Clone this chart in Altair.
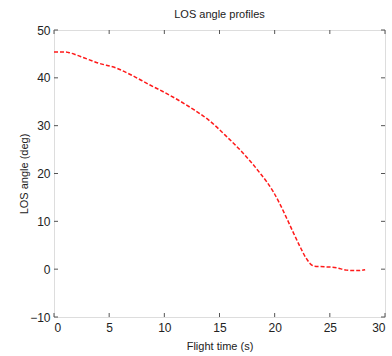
import altair as alt
import pandas as pd

t = [0, 0.5, 1.0, 1.3, 2.0, 2.7, 4.0, 5.7, 7.0, 8.7, 9.6, 11.0, 12.6, 14.0, 15.7,
     17.0, 18.0, 18.7, 19.3, 19.9, 20.5, 21.1, 21.7, 22.3, 22.8, 23.2, 23.6, 24.5,
     25.6, 26.5, 27.5, 28.2]
los = [45.4, 45.4, 45.4, 45.3, 44.8, 44.2, 43.1, 42.0, 40.6, 38.5, 37.45, 35.7, 33.45,
       31.2, 27.6, 24.6, 22.0, 20.0, 18.2, 16.1, 13.5, 10.6, 7.6, 4.7, 2.5, 1.2, 0.6,
       0.5, 0.3, -0.2, -0.3, -0.1]
x_ticks = [0, 5, 10, 15, 20, 25, 30]
y_ticks = [-10, 0, 10, 20, 30, 40, 50]

W, H = 331, 287
FONT = "Liberation Sans"
FRAME = "#555555"

df = pd.DataFrame({"t": t, "los": los})
xt = pd.DataFrame({"x": x_ticks})
yt = pd.DataFrame({"y": y_ticks})

xs = alt.Scale(domain=[0, 30], nice=False, zero=False)
ys = alt.Scale(domain=[-10, 50], nice=False, zero=False)

line = alt.Chart(df).mark_line(color="#ff1a1a", strokeDash=[4, 2], strokeWidth=1.5,
                               interpolate="monotone").encode(
    x=alt.X("t:Q", scale=xs, title="Flight time (s)",
            axis=alt.Axis(values=x_ticks, ticks=False, domain=False, grid=False,
                          labelPadding=5, titlePadding=7, labelFontSize=12,
                          titleFontSize=11, titleFontWeight="normal", labelColor="#222",
                          titleColor="#222", labelFont=FONT, titleFont=FONT)),
    y=alt.Y("los:Q", scale=ys, title="LOS angle (deg)",
            axis=alt.Axis(values=y_ticks, ticks=False, domain=False, grid=False,
                          labelPadding=4, titlePadding=0, labelFontSize=12,
                          titleFontSize=11, titleFontWeight="normal", labelColor="#222",
                          titleColor="#222", labelFont=FONT, titleFont=FONT)),
)

tick_x_bot = alt.Chart(xt).mark_rule(color=FRAME, strokeWidth=1).encode(
    x=alt.X("x:Q", scale=xs), y=alt.value(H), y2=alt.value(H - 4))
tick_x_top = alt.Chart(xt).mark_rule(color=FRAME, strokeWidth=1).encode(
    x=alt.X("x:Q", scale=xs), y=alt.value(0), y2=alt.value(4))
tick_y_left = alt.Chart(yt).mark_rule(color=FRAME, strokeWidth=1).encode(
    y=alt.Y("y:Q", scale=ys), x=alt.value(0), x2=alt.value(4))
tick_y_right = alt.Chart(yt).mark_rule(color=FRAME, strokeWidth=1).encode(
    y=alt.Y("y:Q", scale=ys), x=alt.value(W), x2=alt.value(W - 4))

chart = alt.layer(line, tick_x_bot, tick_x_top, tick_y_left, tick_y_right).properties(
    width=W, height=H,
    title=alt.TitleParams("LOS angle profiles", fontSize=11, fontWeight="normal",
                          font=FONT, color="#222", offset=4),
    autosize=alt.AutoSizeParams(type="none"),
    padding={"left": 54, "top": 30, "right": 7, "bottom": 39},
).configure_view(stroke=FRAME, strokeWidth=1).configure(background="white")

chart.save("out.html", embed_options={"renderer": "svg", "actions": False})
